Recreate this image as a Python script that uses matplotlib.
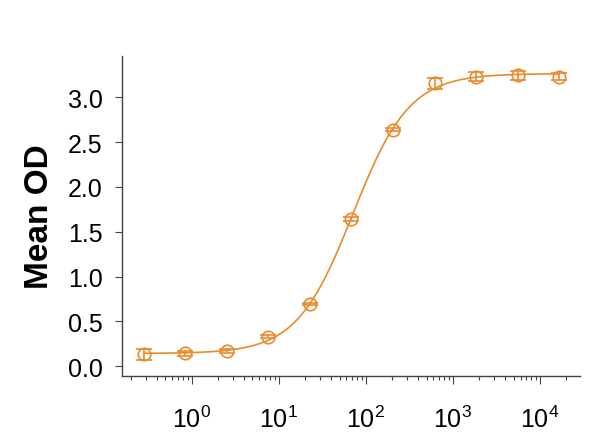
"""
Dose-response curve: Mean OD vs concentration (4PL fit).
"""
import numpy as np
import matplotlib
matplotlib.use("Agg")
import matplotlib.pyplot as plt
from matplotlib.ticker import LogLocator, FixedLocator

plt.rcParams["font.family"] = ["Liberation Sans", "DejaVu Sans"]
plt.rcParams["mathtext.fontset"] = "custom"
plt.rcParams["mathtext.rm"] = "Liberation Sans"
plt.rcParams["mathtext.it"] = "Liberation Sans:italic"
plt.rcParams["mathtext.bf"] = "Liberation Sans:bold"

ORANGE = "#EA8A2A"
AXIS = "#444444"

# 3-fold dilution series
conc = [0.282, 0.847, 2.54, 7.62, 22.9, 68.6, 206, 617, 1852, 5556, 16667]
mean_od = [0.134, 0.145, 0.171, 0.330, 0.695, 1.640, 2.640, 3.155, 3.230, 3.247, 3.230]
sd_od = [0.060, 0.030, 0.020, 0.015, 0.015, 0.020, 0.020, 0.060, 0.050, 0.050, 0.040]
y_ticks = [0.0, 0.5, 1.0, 1.5, 2.0, 2.5, 3.0]


def fit_4pl(x, y):
    # grid over EC50 / hill, bottom & top solved by linear least squares
    x = np.asarray(x, float); y = np.asarray(y, float)
    best = None
    for lec in np.linspace(np.log10(x.min()), np.log10(x.max()), 400):
        for h in np.linspace(0.5, 3.0, 126):
            f = 1.0 / (1.0 + (10**lec / x) ** h)
            A = np.column_stack([1 - f, f])
            coef, *_ = np.linalg.lstsq(A, y, rcond=None)
            sse = np.sum((A @ coef - y) ** 2)
            if best is None or sse < best[0]:
                best = (sse, coef[0], coef[1], 10**lec, h)
    return best[1:]


bottom, top, ec50, hill = fit_4pl(conc, mean_od)
xs = np.logspace(np.log10(min(conc)), np.log10(max(conc)), 400)
ys = bottom + (top - bottom) / (1.0 + (ec50 / xs) ** hill)

fig = plt.figure(figsize=(6.13, 4.35), dpi=100)
ax = fig.add_axes([0.199, 0.133, 0.747, 0.736])

ax.plot(xs, ys, color=ORANGE, lw=1.2, zorder=2)
ax.errorbar(conc, mean_od, yerr=sd_od, fmt="o", ms=9, mfc="none",
            mec=ORANGE, mew=1.2, ecolor=ORANGE, elinewidth=1.2,
            capsize=5.5, capthick=1.2, zorder=3)

ax.set_xscale("log")
ax.set_xlim(10**-0.80, 10**4.46)
ax.set_ylim(-0.11, 3.46)
ax.yaxis.set_major_locator(FixedLocator(y_ticks))
ax.set_yticklabels([f"{v:.1f}" for v in y_ticks])
ax.xaxis.set_major_locator(LogLocator(base=10, numticks=10))
ax.xaxis.set_minor_locator(LogLocator(base=10, subs=np.arange(2, 10), numticks=20))

for s in ("top", "right"):
    ax.spines[s].set_visible(False)
for s in ("left", "bottom"):
    ax.spines[s].set_color(AXIS); ax.spines[s].set_linewidth(1.0)

ax.tick_params(axis="y", which="major", length=5, width=0.8, color=AXIS,
               labelsize=18, pad=9)
ax.tick_params(axis="x", which="major", length=6, width=0.8, color=AXIS,
               labelsize=18, pad=15)
ax.tick_params(axis="x", which="minor", length=3, width=0.8, color=AXIS)

ax.set_ylabel("Mean OD", fontsize=24, fontweight="bold", labelpad=9)

fig.savefig("out.png", dpi=100)
plt.close(fig)
